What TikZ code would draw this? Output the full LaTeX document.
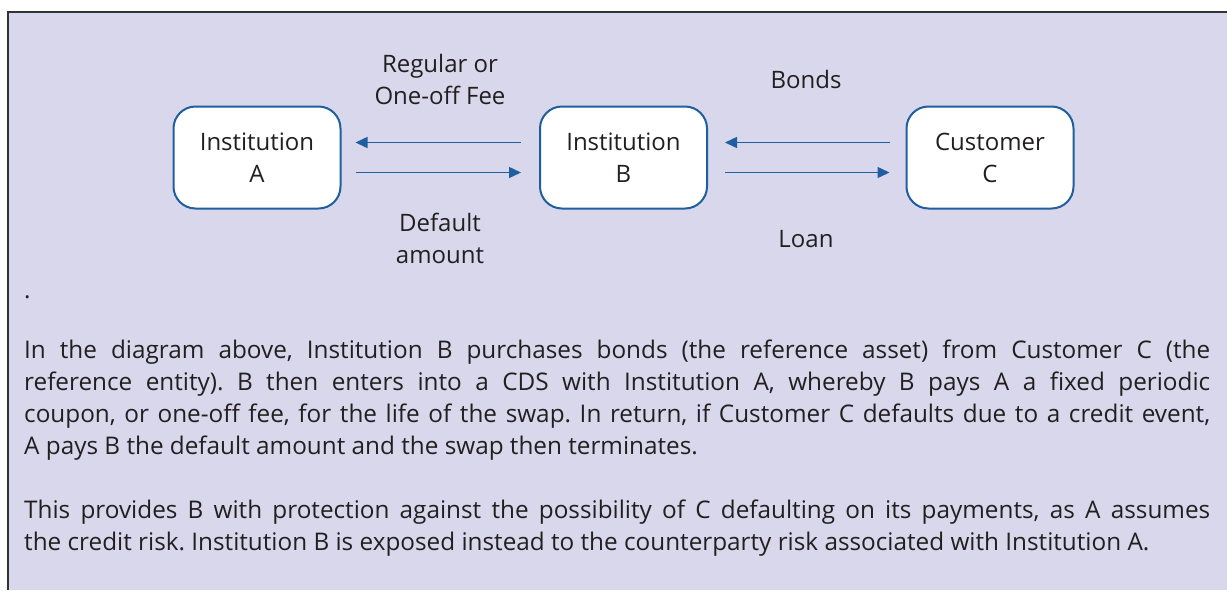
\documentclass[tikz,border=0pt]{standalone}
\usepackage{fontspec}
\setmainfont{Open Sans}
\usetikzlibrary{arrows.meta}
\definecolor{bgl}{HTML}{D9D7EB}
\definecolor{bblue}{HTML}{1F5E9F}
\definecolor{txt}{HTML}{231F20}
\definecolor{frame}{HTML}{333333}
\tikzset{
  inst/.style={draw=bblue, line width=2pt, fill=white, rounded corners=22pt,
    minimum width=167pt, minimum height=102pt, align=center, inner sep=0pt,
    font=\fontsize{24}{32}\selectfont, text=txt},
  lbl/.style={align=center, inner sep=0pt, font=\fontsize{24}{32}\selectfont, text=txt, anchor=base},
  flow/.style={draw=bblue, line width=1.5pt, -{Triangle[length=12pt,width=11pt]}},
  para/.style={text width=1186pt, align=justify, inner sep=0pt, anchor=base west,
    font=\fontsize{24.3}{32}\selectfont\frenchspacing, text=txt}
}
\begin{document}
\begin{tikzpicture}[x=1pt,y=-1pt]
\useasboundingbox (0,0) rectangle (1227,590);
\fill[bgl] (8,12) rectangle (1227,590);
\draw[frame, line width=1.5pt] (8,590) -- (8,12) -- (1227,12);

\node[inst] (A) at (257,157.5) {Institution\\A};
\node[inst] (B) at (623.5,157.5) {Institution\\B};
\node[inst] (C) at (990,157.5) {Customer\\C};

\draw[flow] ([xshift=-18pt,yshift=15pt]B.west) -- ([xshift=14pt,yshift=15pt]A.east);
\draw[flow] ([xshift=14pt,yshift=-15pt]A.east) -- ([xshift=-18pt,yshift=-15pt]B.west);
\draw[flow] ([xshift=-16pt,yshift=15pt]C.west) -- ([xshift=17pt,yshift=15pt]B.east);
\draw[flow] ([xshift=17pt,yshift=-15pt]B.east) -- ([xshift=-16pt,yshift=-15pt]C.west);

\node[lbl] (fee) at (440,104) {Regular or\\One-off Fee};
\node[lbl] (def) at (440,263) {Default\\amount};
\node[lbl] (bonds) at (806,88) {Bonds};
\node[lbl] (loan) at (806,247) {Loan};

\node[lbl, anchor=base west] (dot) at (24,298) {.};

\node[para] (p1) at (24,358) {\hyphenpenalty=10000\tolerance=10000 In the diagram above, Institution B purchases bonds (the reference asset) from Customer C (the\linebreak reference entity). B then enters into a CDS with Institution A, whereby B pays A a fixed periodic\linebreak coupon, or one-off fee, for the life of the swap. In return, if Customer C defaults due to a credit event,\linebreak A pays B the default amount and the swap then terminates.};

\node[para] (p2) at (24,518) {\hyphenpenalty=10000\tolerance=10000\parfillskip=0pt This provides B with protection against the possibility of C defaulting on its payments, as A assumes\linebreak the credit risk. Institution B is exposed instead to the counterparty risk associated with Institution A.};
\end{tikzpicture}
\end{document}
